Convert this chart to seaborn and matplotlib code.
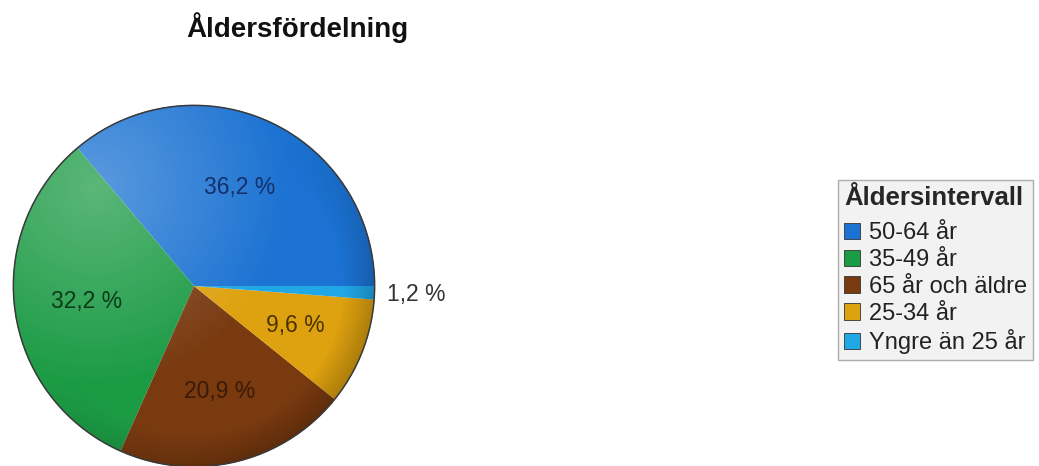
#!/usr/bin/env python3

import matplotlib

matplotlib.use("Agg")
import matplotlib.pyplot as plt
import numpy as np
import seaborn as sns
from matplotlib.patches import Circle

sns.set_theme(style="white")
plt.rcParams["font.family"] = ["Liberation Sans", "DejaVu Sans"]

# Age groups, in the order they run round the pie
groups = ["50-64 år", "35-49 år", "65 år och äldre", "25-34 år", "Yngre än 25 år"]
shares = [36.2, 32.2, 20.9, 9.6, 1.2]
colors = ["#1b72d2", "#1c9b45", "#793a10", "#dea10f", "#1fa7e6"]
text_colors = ["#14306a", "#0c3a1a", "#3a1a06", "#4a3300", "#333333"]

title = "Åldersfördelning"
legend_title = "Åldersintervall"


def pct_label(value):
    return f"{value:.1f} %".replace(".", ",")


def main():
    fig = plt.figure(figsize=(10.39, 4.66), dpi=100)
    ax = fig.add_axes([13 / 1039, -1 / 466, 362 / 1039, 362 / 466])

    wedges, texts, autotexts = ax.pie(
        shares,
        colors=colors,
        startangle=0,
        counterclock=True,
        autopct=pct_label,
        pctdistance=0.6,
        wedgeprops={"linewidth": 0},
        textprops={"fontsize": 16.5},
    )
    ax.set_xlim(-1, 1)
    ax.set_ylim(-1, 1)
    ax.axis("off")

    # label colours and the small slice label outside the pie
    for w, t, c, v in zip(wedges, autotexts, text_colors, shares):
        t.set_color(c)
        t.set_text(pct_label(v))
        if v < 3:
            mid = np.deg2rad((w.theta1 + w.theta2) / 2)
            t.set_position((1.23 * np.cos(mid), 1.23 * np.sin(mid)))
        t.set_clip_on(False)
        w.set_clip_on(False)

    # soft shading to mimic the glossy look
    yy, xx = np.mgrid[1:-1:300j, -1:1:300j]
    rr = np.hypot(xx, yy)
    d = np.hypot(xx + 0.55, yy - 0.55)
    shade = np.zeros((300, 300, 4))
    light = np.clip(0.28 * (1 - d / 1.1), 0, None)
    dark = 0.22 * np.clip((rr - 0.82) / 0.18, 0, 1) * np.clip((xx - yy + 0.3) / 1.5, 0, 1)
    shade[..., :3] = np.where(light[..., None] > dark[..., None], 1.0, 0.0)
    shade[..., 3] = np.maximum(light, dark)
    im = ax.imshow(shade, extent=(-1, 1, -1, 1), zorder=2, interpolation="bilinear")
    clip = Circle((0, 0), 1, transform=ax.transData)
    im.set_clip_path(clip)
    for t in autotexts:
        t.set_zorder(3)

    ax.add_patch(Circle((0, 0), 0.998, fill=False, edgecolor="#3a3a3a",
                        linewidth=1.1, zorder=4, clip_on=False))

    fig.text(297 / 1039, 1 - 37 / 466, title, ha="center", va="baseline",
             fontsize=20, fontweight="bold", color="#111111")

    leg = fig.legend(
        wedges,
        groups,
        title=legend_title,
        loc="upper left",
        bbox_to_anchor=(838 / 1039, 1 - 180 / 466),
        fontsize=17,
        title_fontproperties={"weight": "bold", "size": 18.5},
        frameon=True,
        fancybox=False,
        borderpad=0.25,
        labelspacing=0.2,
        handlelength=0.7,
        handleheight=0.7,
        handletextpad=0.35,
        borderaxespad=0,
        alignment="left",
    )
    # a little more room under the legend title
    leg._legend_box.sep = 9
    frame = leg.get_frame()
    frame.set_facecolor("#efefef")
    frame.set_edgecolor("#9a9a9a")
    frame.set_linewidth(1.0)
    for h in leg.legend_handles:
        h.set_edgecolor("#333333")
        h.set_linewidth(0.6)
    for t in leg.get_texts():
        t.set_color("#222222")

    fig.savefig("out.png", dpi=100)


if __name__ == "__main__":
    main()
